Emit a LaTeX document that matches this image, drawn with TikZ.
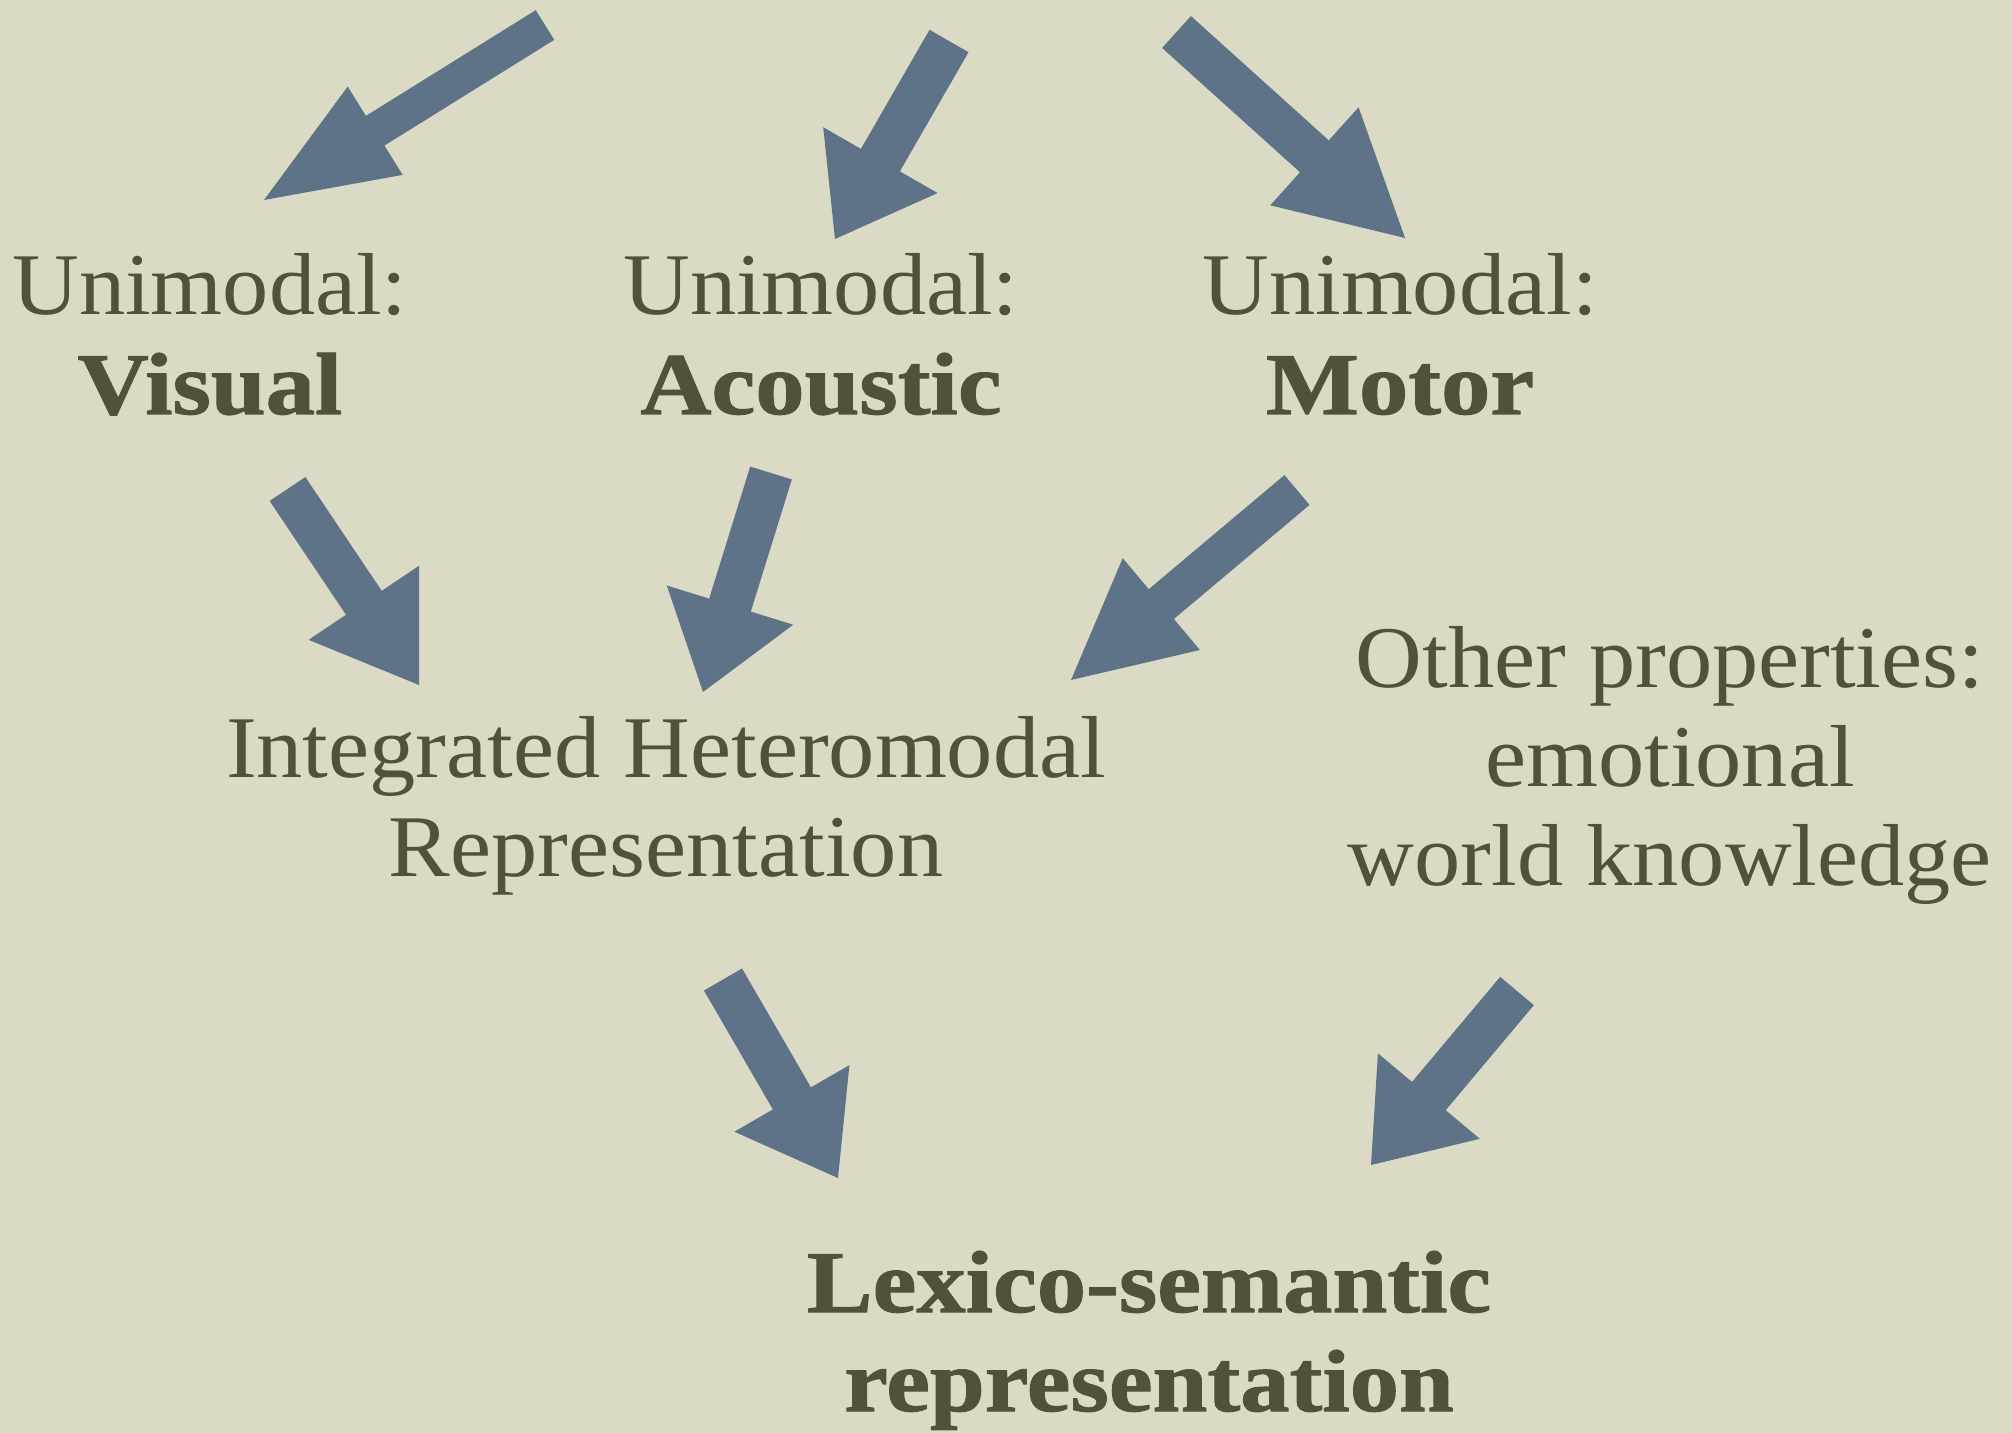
\documentclass[tikz,border=0pt]{standalone}
\usepackage{fontspec}
\setmainfont{Liberation Serif}[FakeStretch=1.05, BoldFeatures={FakeStretch=1.12, FakeBold=1.2}]
\usetikzlibrary{calc}
\definecolor{bgcol}{RGB}{219,219,197}
\definecolor{arrowcol}{RGB}{95,115,136}
\definecolor{textcol}{RGB}{84,81,57}
\tikzset{
  arrowfill/.style={fill=arrowcol},
  lbl/.style={text=textcol, font=\fontsize{44pt}{49.5pt}\selectfont, align=center, anchor=base, inner sep=0pt},
}
% #1 name, #2 tail, #3 tip, #4 half shaft width, #5 half head width, #6 head length
\newcommand{\blockarrow}[6]{%
  \coordinate (#1t) at #2;
  \coordinate (#1p) at #3;
  \coordinate (#1b) at ($(#1p)!#6!(#1t)$);
  \fill[arrowfill] ($(#1t)!#4!90:(#1p)$) -- ($(#1b)!#4!-90:(#1t)$) -- ($(#1b)!#5!-90:(#1t)$) -- (#1p)
    -- ($(#1b)!#5!90:(#1t)$) -- ($(#1b)!#4!90:(#1t)$) -- ($(#1t)!#4!-90:(#1p)$) -- cycle;
}
\begin{document}
\begin{tikzpicture}[x=0.5pt,y=-0.5pt]
\fill[bgcol] (0,0) rectangle (2012,1433);
\useasboundingbox (0,0) rectangle (2012,1433);

% base anchor = baseline of the last line
\node[lbl] (vis) at (210,414) {Unimodal:\\\textbf{Visual}};
\node[lbl] (aco) at (821,414) {Unimodal:\\\textbf{Acoustic}};
\node[lbl] (mot) at (1400,414) {Unimodal:\\\textbf{Motor}};
\node[lbl] (int) at (666,876) {Integrated Heteromodal\\Representation};
\node[lbl] (oth) at (1670,885) {Other properties:\\emotional\\world knowledge};
\node[lbl] (lex) at (1149,1411) {\textbf{Lexico-semantic}\\\textbf{representation}};

\blockarrow{a1}{(545,25)}{(264,200)}{8.75pt}{26pt}{65.5pt}
\blockarrow{a2}{(949,41)}{(835,239)}{11.25pt}{33pt}{45.5pt}
\blockarrow{a3}{(1176.5,32)}{(1405,238)}{10.75pt}{33pt}{61pt}
\blockarrow{a4}{(287.5,489)}{(419,685)}{10.75pt}{33.25pt}{49.5pt}
\blockarrow{a5}{(771,473)}{(703,692)}{10.9pt}{33.1pt}{45.5pt}
\blockarrow{a6}{(1297,490)}{(1071,680)}{9.75pt}{30pt}{59pt}
\blockarrow{a7}{(723,979.5)}{(838,1178)}{11pt}{33.25pt}{46pt}
\blockarrow{a8}{(1517,991)}{(1371,1165)}{11pt}{33.25pt}{45pt}
\end{tikzpicture}
\end{document}
